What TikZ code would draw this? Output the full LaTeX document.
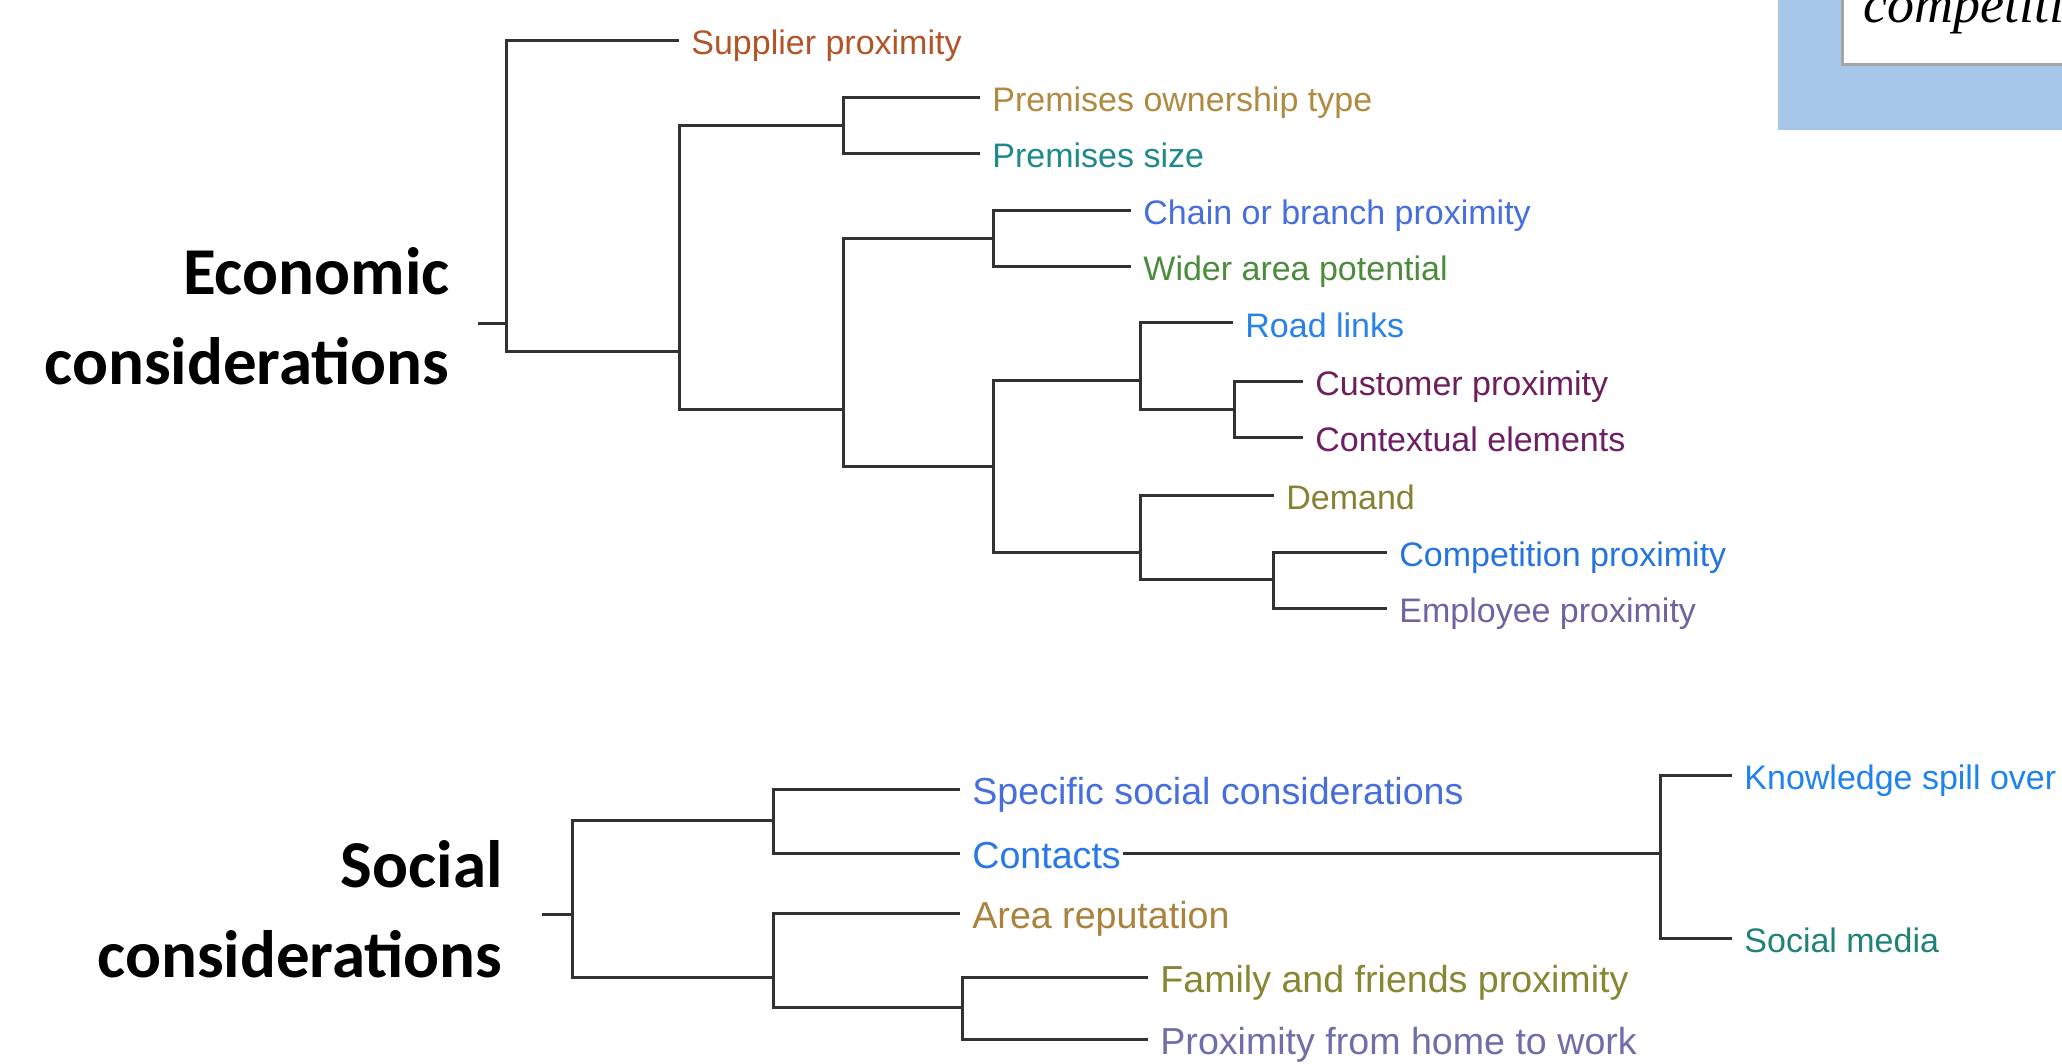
\documentclass[tikz,border=0pt]{standalone}
\usepackage{xcolor}
\usepackage{fontspec}
\usepackage{tikz}
\setmainfont{Liberation Sans}
\newfontfamily\headfont{Carlito}
\newfontfamily\boxfont{Liberation Serif}

\begin{document}
\begin{tikzpicture}[x=0.5pt,y=0.5pt,yscale=-1,xscale=1,
  leaf/.style={anchor=west,inner xsep=6pt,inner ysep=0pt,text height=14pt,text depth=0pt,font=\fontsize{17}{20}\selectfont},
  bigleaf/.style={leaf,text height=15pt,font=\fontsize{18.8}{22}\selectfont},
  link/.style={color={rgb, 255:red, 50; green, 50; blue, 50 },line width=1.5pt},
  head/.style={anchor=base east,align=right,inner sep=0pt,font=\headfont\bfseries\fontsize{33.5}{45}\selectfont}]
\useasboundingbox (0,0) rectangle (2062,1064);
%Shape: Rectangle [corner box]
\fill [fill={rgb, 255:red, 165; green, 198; blue, 232 }] (1778,0) rectangle (2062,130) ;
\draw [color={rgb, 255:red, 165; green, 165; blue, 165 },fill=white,line width=1.5pt] (1842,-10) rectangle (2080,65) ;
% Text Node
\node [anchor=base west,inner sep=0pt,font=\boxfont\itshape\fontsize{27}{30}\selectfont] (cmp) at (1863,23) {competiti};

% Text Node
\node [head] (econ) at (450,385) {Economic\\considerations};
\node [head] (soc) at (503,977) {Social\\considerations};

% Text Node
\node [leaf,color={rgb, 255:red, 178; green, 84; blue, 40 }] (sup) at (679,41) {Supplier proximity};
\node [leaf,color={rgb, 255:red, 176; green, 138; blue, 64 }] (pown) at (980,98) {Premises ownership type};
\node [leaf,color={rgb, 255:red, 30; green, 138; blue, 140 }] (psize) at (980,154) {Premises size};
\node [leaf,color={rgb, 255:red, 70; green, 110; blue, 220 }] (chain) at (1131,211) {Chain or branch proximity};
\node [leaf,color={rgb, 255:red, 74; green, 140; blue, 60 }] (wider) at (1131,267) {Wider area potential};
\node [leaf,color={rgb, 255:red, 40; green, 130; blue, 235 }] (road) at (1233,323) {Road links};
\node [leaf,color={rgb, 255:red, 110; green, 30; blue, 90 }] (cust) at (1303,381) {Customer proximity};
\node [leaf,color={rgb, 255:red, 110; green, 30; blue, 100 }] (ctx) at (1303,437) {Contextual elements};
\node [leaf,color={rgb, 255:red, 135; green, 130; blue, 50 }] (dem) at (1274,495) {Demand};
\node [leaf,color={rgb, 255:red, 35; green, 115; blue, 225 }] (comp) at (1387,552) {Competition proximity};
\node [leaf,color={rgb, 255:red, 110; green, 100; blue, 160 }] (empl) at (1387,608) {Employee proximity};

% Text Node
\node [bigleaf,color={rgb, 255:red, 70; green, 110; blue, 220 }] (spec) at (960,789) {Specific social considerations};
\node [bigleaf,color={rgb, 255:red, 40; green, 120; blue, 230 }] (cont) at (960,853) {Contacts};
\node [bigleaf,color={rgb, 255:red, 170; green, 130; blue, 60 }] (area) at (960,913) {Area reputation};
\node [bigleaf,color={rgb, 255:red, 135; green, 135; blue, 50 }] (fam) at (1148,977) {Family and friends proximity};
\node [bigleaf,color={rgb, 255:red, 110; green, 110; blue, 170 }] (home) at (1148,1039) {Proximity from home to work};
\node [leaf,color={rgb, 255:red, 30; green, 130; blue, 240 }] (know) at (1732,775) {Knowledge spill over};
\node [leaf,color={rgb, 255:red, 30; green, 130; blue, 120 }] (smed) at (1732,938) {Social media};

%Straight Lines [economic tree]
\coordinate (e0) at (478,324);
\coordinate (r1) at (506,324);
\coordinate (a1) at (679,352);
\coordinate (b1) at (843,126);
\coordinate (b2) at (843,409);
\coordinate (c1) at (993,239);
\coordinate (c2) at (993,466);
\coordinate (d1) at (1140,380);
\coordinate (d2) at (1140,552);
\coordinate (e1) at (1234,409);
\coordinate (e2) at (1273,579);
\draw [link] (e0) -- (r1) ;
\draw [link] (r1) |- (sup.west) ;
\draw [link] (r1) |- (a1) ;
\draw [link] (a1) |- (b1) ;
\draw [link] (a1) |- (b2) ;
\draw [link] (b1) |- (pown.west) ;
\draw [link] (b1) |- (psize.west) ;
\draw [link] (b2) |- (c1) ;
\draw [link] (b2) |- (c2) ;
\draw [link] (c1) |- (chain.west) ;
\draw [link] (c1) |- (wider.west) ;
\draw [link] (c2) |- (d1) ;
\draw [link] (c2) |- (d2) ;
\draw [link] (d1) |- (road.west) ;
\draw [link] (d1) |- (e1) ;
\draw [link] (e1) |- (cust.west) ;
\draw [link] (e1) |- (ctx.west) ;
\draw [link] (d2) |- (dem.west) ;
\draw [link] (d2) |- (e2) ;
\draw [link] (e2) |- (comp.west) ;
\draw [link] (e2) |- (empl.west) ;

%Straight Lines [social tree]
\coordinate (f0) at (542,914);
\coordinate (s1) at (572,914);
\coordinate (t1) at (773,820);
\coordinate (t2) at (773,977);
\coordinate (v1) at (962,1007);
\coordinate (u1) at (1660,853);
\draw [link] (f0) -- (s1) ;
\draw [link] (s1) |- (t1) ;
\draw [link] (s1) |- (t2) ;
\draw [link] (t1) |- (spec.west) ;
\draw [link] (t1) |- (cont.west) ;
\draw [link] (t2) |- (area.west) ;
\draw [link] (t2) |- (v1) ;
\draw [link] (v1) |- (fam.west) ;
\draw [link] (v1) |- (home.west) ;
\draw [link] ([xshift=-5pt]cont.east) -- (u1) ;
\draw [link] (u1) |- (know.west) ;
\draw [link] (u1) |- (smed.west) ;
\end{tikzpicture}
\end{document}
